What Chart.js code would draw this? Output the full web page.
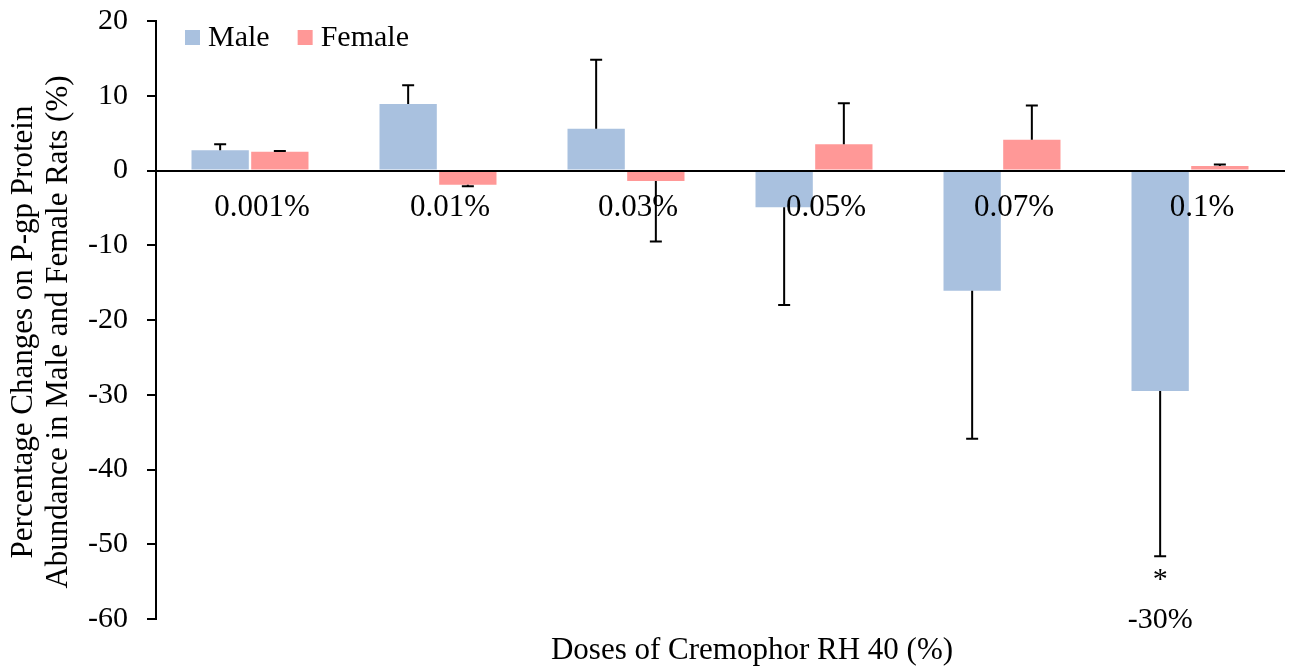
<!DOCTYPE html>
<html>
<head>
<meta charset="utf-8">
<script src="https://cdn.jsdelivr.net/npm/chart.js@4"></script>
<style>
  html, body { margin: 0; padding: 0; background: #fff; }
  #wrap { width: 1293px; height: 670px; position: relative; }
</style>
</head>
<body>
<div id="wrap"><canvas id="chart"></canvas></div>
<script>
// data
const doses = ['0.001%', '0.01%', '0.03%', '0.05%', '0.07%', '0.1%'];
const maleValues = [2.7, 8.9, 5.6, -4.9, -16.1, -29.5];
const maleErrors = [0.8, 2.5, 9.2, 13.1, 19.8, 22.1];
const femaleValues = [2.5, -1.9, -1.4, 3.5, 4.1, 0.6];
const femaleErrors = [0.1, 0.2, 8.1, 5.5, 4.6, 0.2];
const maleNotes = ['', '', '', '', '', '*'];
const maleNotes2 = ['', '', '', '', '', '-30%'];
const yTicks = [20, 10, 0, -10, -20, -30, -40, -50, -60];
const yTitle = ['Percentage Changes on P-gp Protein', 'Abundance in Male and Female Rats (%)'];
const xTitle = 'Doses of Cremophor RH 40 (%)';

const FONT = '"Liberation Serif", "Times New Roman", serif';

/**
 * One-sided error bars, drawn away from zero like the bar
 */
const errorBars = {
    id: 'errorBars',
    afterDatasetsDraw(chart) {
        const ctx = chart.ctx;
        const y = chart.scales.y;
        chart.data.datasets.forEach((ds, di) => {
            const meta = chart.getDatasetMeta(di);
            meta.data.forEach((bar, i) => {
                const v = ds.data[i];
                const e = ds.errors[i];
                const end = v + (v >= 0 ? e : -e);
                const y0 = y.getPixelForValue(v);
                const y1 = y.getPixelForValue(end);
                ctx.save();
                ctx.strokeStyle = '#000';
                ctx.lineWidth = 2;
                ctx.beginPath();
                ctx.moveTo(bar.x, y0);
                ctx.lineTo(bar.x, y1);
                ctx.moveTo(bar.x - 6, y1);
                ctx.lineTo(bar.x + 6, y1);
                ctx.stroke();
                ctx.restore();
            });
        });
    }
};

/**
 * Legend inside the plot, axis titles and the significance note
 */
const extras = {
    id: 'extras',
    afterDraw(chart) {
        const ctx = chart.ctx;
        const y = chart.scales.y;
        ctx.save();
        ctx.fillStyle = '#000';
        ctx.textBaseline = 'middle';

        // legend, one row in the top-left corner of the plot
        ctx.font = '30px ' + FONT;
        ctx.textAlign = 'left';
        let lx = chart.chartArea.left + 29;
        const ly = chart.chartArea.top + 17;
        chart.data.datasets.forEach(ds => {
            ctx.fillStyle = ds.backgroundColor;
            ctx.fillRect(lx, ly - 8, 15, 15);
            ctx.fillStyle = '#000';
            ctx.fillText(ds.label, lx + 23, ly);
            lx += 23 + ctx.measureText(ds.label).width + 28;
        });

        ctx.textAlign = 'center';
        // y title, rotated
        ctx.font = '31px ' + FONT;
        ctx.save();
        ctx.translate(24, 332);
        ctx.rotate(-Math.PI / 2);
        ctx.fillText(yTitle[0], 0, 0);
        ctx.fillText(yTitle[1], 0, 35);
        ctx.restore();

        // x title
        ctx.fillText(xTitle, 752, 651);

        // note under the male 0.1% error bar
        const meta = chart.getDatasetMeta(0);
        ctx.font = '30px ' + FONT;
        maleNotes.forEach((n, i) => {
            if (!n) return;
            const bar = meta.data[i];
            const end = maleValues[i] - maleErrors[i];
            const py = y.getPixelForValue(end);
            ctx.fillText(n, bar.x, py + 24);
            ctx.fillText(maleNotes2[i], bar.x, py + 64);
        });
        ctx.restore();
    }
};

new Chart(document.getElementById('chart'), {
    type: 'bar',
    data: {
        labels: doses,
        datasets: [
            {
                label: 'Male',
                data: maleValues,
                errors: maleErrors,
                backgroundColor: '#A9C1DF',
                categoryPercentage: 0.635,
                barPercentage: 0.96
            },
            {
                label: 'Female',
                data: femaleValues,
                errors: femaleErrors,
                backgroundColor: '#FF9897',
                categoryPercentage: 0.635,
                barPercentage: 0.96
            }
        ]
    },
    options: {
        responsive: true,
        maintainAspectRatio: false,
        animation: false,
        layout: {
            padding: { top: 21, right: 9, bottom: 51, left: 0 }
        },
        plugins: {
            tooltip: { enabled: false },
            legend: { display: false }
        },
        scales: {
            x: {
                position: { y: 0 },
                grid: { display: false, drawTicks: false },
                border: { display: true, color: '#000', width: 2, z: 1 },
                ticks: {
                    z: 1,
                    color: '#000',
                    padding: 19,
                    labelOffset: 12,
                    maxRotation: 0,
                    font: { family: FONT, size: 31 }
                }
            },
            y: {
                min: -60,
                max: 20,
                afterFit(scale) {
                    scale.width = 156;
                    // let layout.padding alone set the plot top/bottom
                    scale.paddingTop = 0;
                    scale.paddingBottom = 0;
                },
                afterBuildTicks(scale) { scale.ticks = yTicks.map(v => ({ value: v })); },
                grid: {
                    drawOnChartArea: false,
                    drawTicks: true,
                    tickLength: 9,
                    color: '#000',
                    lineWidth: 2
                },
                border: { display: true, color: '#000', width: 2 },
                ticks: {
                    color: '#000',
                    padding: 19,
                    font: { family: FONT, size: 30 }
                }
            }
        }
    },
    plugins: [errorBars, extras]
});
</script>
</body>
</html>
